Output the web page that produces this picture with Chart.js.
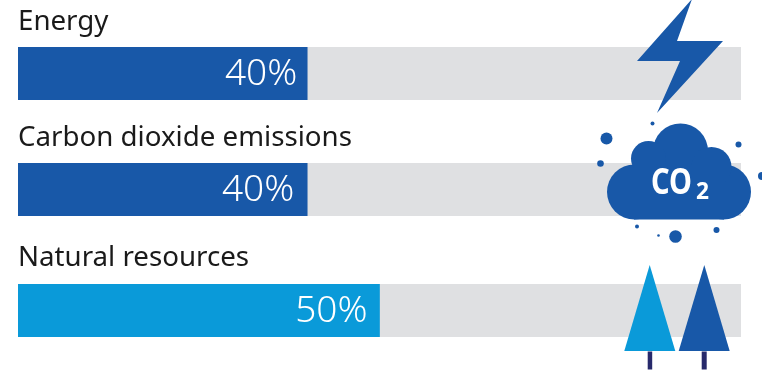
<!DOCTYPE html>
<html>
<head>
<meta charset="utf-8">
<title>Energy, emissions and resources</title>
<script src="https://cdn.jsdelivr.net/npm/chart.js@4"></script>
<style>
    html, body { margin: 0; padding: 0; background: #fff; overflow: hidden; }
    #page { position: relative; width: 762px; height: 374px; overflow: hidden; }
    .row { position: absolute; left: 0; width: 762px; }
    #icons { position: absolute; left: 0; top: 0; }
</style>
</head>
<body>
<div id="page">
    <div class="row" style="top:7px;height:93px"><canvas id="row0"></canvas></div>
    <div class="row" style="top:123px;height:93px"><canvas id="row1"></canvas></div>
    <div class="row" style="top:243px;height:94px"><canvas id="row2"></canvas></div>

    <svg id="icons" width="762" height="374" viewBox="0 0 762 374">
        <!-- lightning -->
        <polygon fill="#1858a8" points="692,-1 677,41 723,41 657,113 680,61 637,61"/>
        <!-- cloud -->
        <g fill="#1858a8">
            <circle cx="634.5" cy="192" r="27.5"/>
            <circle cx="723.5" cy="192" r="27.5"/>
            <circle cx="680.5" cy="151" r="27.5"/>
            <circle cx="648.5" cy="158.5" r="17.5"/>
            <circle cx="711.5" cy="167" r="20"/>
            <rect x="634" y="165" width="90" height="54.5"/>
            <circle cx="606.5" cy="138.5" r="6"/>
            <circle cx="652.5" cy="123.5" r="2"/>
            <circle cx="600.5" cy="163.5" r="3.3"/>
            <circle cx="738.5" cy="144.5" r="3"/>
            <circle cx="762" cy="176" r="4"/>
            <circle cx="637" cy="226.5" r="2"/>
            <circle cx="658.5" cy="235.5" r="1.3"/>
            <circle cx="675.5" cy="236.5" r="6.3"/>
            <circle cx="716.5" cy="230" r="3"/>
        </g>
        <text x="651" y="194" fill="#fff" font-family="Noto Sans" font-weight="700" font-size="35" textLength="41" lengthAdjust="spacingAndGlyphs">CO</text>
        <text x="696" y="199" fill="#fff" font-family="Noto Sans" font-weight="700" font-size="23" textLength="13" lengthAdjust="spacingAndGlyphs">2</text>
        <!-- trees -->
        <polygon fill="#0a9ad9" points="649.7,265 624.3,351 675.3,351"/>
        <polygon fill="#1858a8" points="704.3,265 678.7,351 729.7,351"/>
        <rect x="647.7" y="351.5" width="4.5" height="18" fill="#27296b"/>
        <rect x="701.7" y="351.5" width="5" height="18" fill="#27296b"/>
    </svg>
</div>

<script>
const categories = ['Energy', 'Carbon dioxide emissions', 'Natural resources'];
const shareValues = [40, 40, 50];
const trackValues = [100, 100, 100];
const shareColors = ['#1858a8', '#1858a8', '#0a9ad9'];
const labelGaps = [10, 13, 12];   // the percent labels don't sit at the same distance from the bar end
const titleGaps = [10, 10, 11];

// writes the percent inside the end of the coloured bar
const percentLabel = {
    id: 'percentLabel',
    afterDatasetsDraw(chart, args, opts) {
        const bar = chart.getDatasetMeta(0).data[0];
        const ctx = chart.ctx;
        ctx.save();
        ctx.fillStyle = '#fff';
        ctx.font = '300 37px "Noto Sans"';
        ctx.textAlign = 'right';
        ctx.textBaseline = 'middle';
        ctx.fillText(opts.text, bar.x - opts.gap, bar.y + 1);
        ctx.restore();
    }
};

categories.forEach((name, i) => {
    new Chart(document.getElementById('row' + i), {
        type: 'bar',
        plugins: [percentLabel],
        data: {
            labels: [name],
            datasets: [
                { data: [shareValues[i]], backgroundColor: shareColors[i], order: 1 },
                { data: [trackValues[i]], backgroundColor: '#dfe0e2', order: 2 }
            ]
        },
        options: {
            indexAxis: 'y',
            responsive: true,
            maintainAspectRatio: false,
            animation: false,
            layout: { padding: { left: 18, right: 21 } },
            datasets: { bar: { barPercentage: 1, categoryPercentage: 1 } },
            scales: {
                x: { stacked: false, display: false, min: 0, max: 100 },
                y: { stacked: true, display: false }
            },
            plugins: {
                legend: { display: false },
                tooltip: { enabled: false },
                title: {
                    display: true,
                    text: name,
                    align: 'start',
                    color: '#1a1a1a',
                    font: { family: 'Noto Sans', size: 27.7, weight: 'normal', lineHeight: '30px' },
                    padding: { top: 0, bottom: titleGaps[i] }
                },
                percentLabel: { text: shareValues[i] + '%', gap: labelGaps[i] }
            }
        }
    });
});
</script>
</body>
</html>
